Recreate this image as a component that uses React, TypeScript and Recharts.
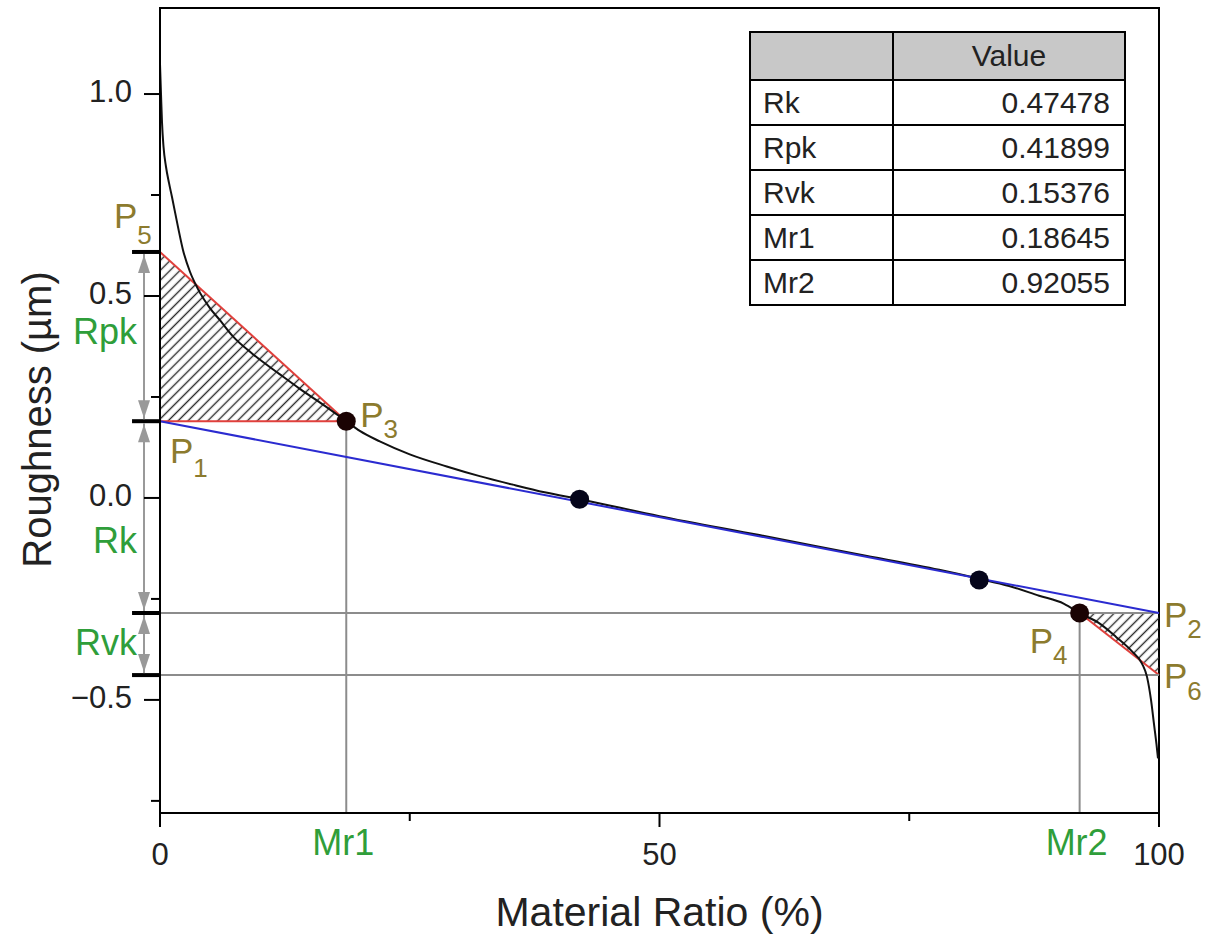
import React from 'react';
import {
  Area,
  ComposedChart,
  Line,
  ReferenceArea,
  ReferenceDot,
  ReferenceLine,
  Scatter,
  XAxis,
  YAxis,
} from 'recharts';

// bearing (Abbott-Firestone) curve
const curveRatio = [
  0, 0.1, 0.2, 0.35, 0.6, 0.9, 1.2, 1.8, 2.3, 3.0, 3.7, 5, 6, 7.3, 9.3, 12, 14, 16.5, 18.65, 20, 22, 25, 28.7, 32,
  35.3, 38.5, 42, 50, 60, 70, 78, 82, 85, 88, 90.5, 92.05, 94, 95.7, 97.3, 98.3, 98.8, 99.2, 99.5, 99.75, 99.9,
];
const curveHeight = [
  1.074, 1.0, 0.93, 0.87, 0.82, 0.78, 0.745, 0.671, 0.614, 0.56, 0.522, 0.47, 0.44, 0.4, 0.356, 0.306, 0.27, 0.228,
  0.19, 0.166, 0.14, 0.108, 0.078, 0.054, 0.033, 0.014, -0.003, -0.045, -0.092, -0.14, -0.178, -0.2, -0.218,
  -0.242, -0.262, -0.285, -0.31, -0.344, -0.38, -0.41, -0.443, -0.5, -0.56, -0.61, -0.645,
];

// 40% window of the equivalent straight line
const windowRatio = [42, 82];
const windowHeight = [-0.003, -0.203];

// result table
const tableLabels = ['Rk', 'Rpk', 'Rvk', 'Mr1', 'Mr2'];
const tableValues = [0.47478, 0.41899, 0.15376, 0.18645, 0.92055];

// axis ticks
const xMajorTicks = [0, 50, 100];
const xMinorTicks = [25, 75];
const yMajorTicks = [-0.5, 0, 0.5, 1.0];
const yMinorTicks = [-0.75, -0.25, 0.25, 0.75];

const coreTop = 0.19; // height of P1
const [rk, rpk, rvk, mr1, mr2] = tableValues;
const mr1Pct = mr1 * 100;
const mr2Pct = mr2 * 100;
const coreBottom = coreTop - rk;
const peakTop = coreTop + rpk;
const valleyBottom = coreBottom - rvk;

const yMin = -0.78;
const yMax = 1.213;

const GREEN = '#2f9e3a';
const OLIVE = '#8c7b2e';
const RED = '#e0403c';
const BLUE = '#2b2bd0';
const GRAY = '#8c8c8c';
const FONT = '"Liberation Sans", Arial, sans-serif';

const curveData = curveRatio.map((x, i) => ({ x, y: curveHeight[i] }));
const lineData = [
  { x: 0, y: coreTop },
  { x: 100, y: coreBottom },
];
const windowData = windowRatio.map((x, i) => ({ x, y: windowHeight[i] }));
const cornerData = [
  { x: mr1Pct, y: coreTop },
  { x: mr2Pct, y: coreBottom },
];
const peakTri = [
  { x: 0, y: [coreTop, peakTop] },
  { x: mr1Pct, y: [coreTop, coreTop] },
];
const valleyTri = [
  { x: mr2Pct, y: [coreBottom, coreBottom] },
  { x: 100, y: [valleyBottom, coreBottom] },
];

const pPoints = [
  { n: '5', x: 0, y: peakTop, dx: -46, dy: -24, sub: 16 },
  { n: '1', x: 0, y: coreTop, dx: 10, dy: 42, sub: 14 },
  { n: '3', x: mr1Pct, y: coreTop, dx: 14, dy: 6, sub: 11 },
  { n: '4', x: mr2Pct, y: coreBottom, dx: -50, dy: 40, sub: 11 },
  { n: '2', x: 100, y: coreBottom, dx: 5, dy: 14, sub: 11 },
  { n: '6', x: 100, y: valleyBottom, dx: 5, dy: 13, sub: 12 },
];

const fmtY = (v: number) => (v < 0 ? '\u2212' + Math.abs(v).toFixed(1) : v.toFixed(1));

const XTick = (props: any) => {
  const { x, y, payload } = props;
  const v = payload.value;
  if (v === mr1Pct || v === mr2Pct) {
    return (
      <text x={x - 3} y={y + 42} textAnchor="middle" fill={GREEN} fontSize={36} fontFamily={FONT}>
        {v === mr1Pct ? 'Mr1' : 'Mr2'}
      </text>
    );
  }
  const minor = xMinorTicks.includes(v);
  return (
    <g>
      <line x1={x} x2={x} y1={y} y2={y + (minor ? 8 : 14)} stroke="#000" strokeWidth={2} />
      {!minor && (
        <text x={x} y={y + 52} textAnchor="middle" fill="#222" fontSize={31} fontFamily={FONT}>
          {v}
        </text>
      )}
    </g>
  );
};

const YTick = (props: any) => {
  const { x, y, payload } = props;
  const v = payload.value;
  const minor = yMinorTicks.includes(v);
  return (
    <g>
      <line x1={x - (minor ? 9 : 16)} x2={x} y1={y} y2={y} stroke="#000" strokeWidth={2} />
      {!minor && (
        <text x={x - 28} y={y - 3} dy="0.36em" textAnchor="end" fill="#222" fontSize={31} fontFamily={FONT}>
          {fmtY(v)}
        </text>
      )}
    </g>
  );
};

const arrow = (name: string, lift: number) => (p: any) => {
  const top = Math.min(p.y1, p.y2);
  const bot = Math.max(p.y1, p.y2);
  const x = p.x1;
  return (
    <g>
      <line x1={x} x2={x} y1={top + 2} y2={bot - 2} stroke="#999" strokeWidth={2} />
      <polygon points={`${x},${top + 3} ${x - 6},${top + 21} ${x + 6},${top + 21}`} fill="#999" />
      <polygon points={`${x},${bot - 3} ${x - 6},${bot - 21} ${x + 6},${bot - 21}`} fill="#999" />
      <text x={x - 7} y={(top + bot) / 2 + lift} textAnchor="end" fill={GREEN} fontSize={36} fontFamily={FONT}>
        {name}
      </text>
    </g>
  );
};

const pLabel = (n: string, dx: number, dy: number, sub: number) => (p: any) => (
  <text x={p.cx + dx} y={p.cy + dy} fill={OLIVE} fontSize={35} fontFamily={FONT}>
    P
    <tspan dy={sub} fontSize={26}>
      {n}
    </tspan>
  </text>
);

const cell: React.CSSProperties = { border: '2px solid #000', padding: 0 };

export default function App() {
  return (
    <div style={{ position: 'absolute', left: 0, top: 0, width: 1214, height: 941, background: '#fff' }}>
      <ComposedChart width={1214} height={941} margin={{ top: 8, right: 55, bottom: 68, left: 60 }}>
        <defs>
          <pattern id="hatch" patternUnits="userSpaceOnUse" width={7} height={7} patternTransform="rotate(45)">
            <line x1={3.5} y1={0} x2={3.5} y2={7} stroke="#2a2a2a" strokeWidth={1.4} />
          </pattern>
        </defs>
        <XAxis
          dataKey="x"
          type="number"
          domain={[0, 100]}
          ticks={[...xMajorTicks, ...xMinorTicks, mr1Pct, mr2Pct].sort((a, b) => a - b)}
          interval={0}
          height={60}
          tickSize={0}
          tickMargin={0}
          tickLine={false}
          axisLine={{ stroke: '#000', strokeWidth: 2 }}
          tick={<XTick />}
          label={{
            content: ({ viewBox }: any) => (
              <text
                x={viewBox.x + viewBox.width / 2}
                y={viewBox.y + 113}
                textAnchor="middle"
                fill="#222"
                fontSize={41}
                fontFamily={FONT}
              >
                Material Ratio (%)
              </text>
            ),
          }}
        />
        <YAxis
          type="number"
          domain={[yMin, yMax]}
          ticks={[...yMajorTicks, ...yMinorTicks].sort((a, b) => a - b)}
          interval={0}
          width={100}
          tickSize={0}
          tickMargin={0}
          tickLine={false}
          axisLine={{ stroke: '#000', strokeWidth: 2 }}
          tick={<YTick />}
          label={{
            content: ({ viewBox }: any) => {
              const cx = viewBox.x - 23;
              const cy = viewBox.y + viewBox.height / 2 + 9;
              return (
                <text
                  x={cx}
                  y={cy}
                  dy="0.36em"
                  textAnchor="middle"
                  fill="#222"
                  fontSize={40}
                  fontFamily={FONT}
                  transform={`rotate(-90, ${cx}, ${cy})`}
                >
                  Roughness (µm)
                </text>
              );
            },
          }}
        />
        <ReferenceArea x1={0} x2={100} y1={yMin} y2={yMax} fill="none" stroke="#000" strokeWidth={2} />
        <ReferenceLine y={coreBottom} stroke={GRAY} strokeWidth={2} />
        <ReferenceLine y={valleyBottom} stroke={GRAY} strokeWidth={2} />
        <ReferenceLine segment={[{ x: mr1Pct, y: yMin }, { x: mr1Pct, y: coreTop }]} stroke={GRAY} strokeWidth={2} />
        <ReferenceLine segment={[{ x: mr2Pct, y: yMin }, { x: mr2Pct, y: coreBottom }]} stroke={GRAY} strokeWidth={2} />
        <Area
          data={peakTri}
          dataKey="y"
          type="linear"
          fill="url(#hatch)"
          fillOpacity={1}
          stroke={RED}
          strokeWidth={2}
          dot={false}
          activeDot={false}
          isAnimationActive={false}
        />
        <Area
          data={valleyTri}
          dataKey="y"
          type="linear"
          fill="url(#hatch)"
          fillOpacity={1}
          stroke={RED}
          strokeWidth={2}
          dot={false}
          activeDot={false}
          isAnimationActive={false}
        />
        <Line
          data={curveData}
          dataKey="y"
          type="monotone"
          stroke="#111"
          strokeWidth={2}
          dot={false}
          activeDot={false}
          isAnimationActive={false}
        />
        <Line
          data={lineData}
          dataKey="y"
          type="linear"
          stroke={BLUE}
          strokeWidth={2}
          dot={false}
          activeDot={false}
          isAnimationActive={false}
        />
        <Scatter
          data={windowData}
          dataKey="y"
          isAnimationActive={false}
          shape={(p: any) => <circle cx={p.cx} cy={p.cy} r={9.5} fill="#05051a" />}
        />
        <Scatter
          data={cornerData}
          dataKey="y"
          isAnimationActive={false}
          shape={(p: any) => <circle cx={p.cx} cy={p.cy} r={9.5} fill="#1a0303" />}
        />
        {[peakTop, coreTop, coreBottom, valleyBottom].map((lv, i) => (
          <ReferenceLine
            key={'bar' + i}
            segment={[{ x: -2.8, y: lv }, { x: 0, y: lv }]}
            stroke="#000"
            strokeWidth={4}
            ifOverflow="visible"
          />
        ))}
        <ReferenceLine
          segment={[{ x: -1.6, y: peakTop }, { x: -1.6, y: coreTop }]}
          ifOverflow="visible"
          shape={arrow('Rpk', 7)}
        />
        <ReferenceLine
          segment={[{ x: -1.6, y: coreTop }, { x: -1.6, y: coreBottom }]}
          ifOverflow="visible"
          shape={arrow('Rk', 36)}
        />
        <ReferenceLine
          segment={[{ x: -1.6, y: coreBottom }, { x: -1.6, y: valleyBottom }]}
          ifOverflow="visible"
          shape={arrow('Rvk', 11)}
        />
        {pPoints.map((pt) => (
          <ReferenceDot
            key={'P' + pt.n}
            x={pt.x}
            y={pt.y}
            r={1}
            ifOverflow="visible"
            shape={pLabel(pt.n, pt.dx, pt.dy, pt.sub)}
          />
        ))}
      </ComposedChart>
      <table
        style={{
          position: 'absolute',
          left: 749,
          top: 31,
          width: 377,
          height: 275,
          borderCollapse: 'collapse',
          fontFamily: FONT,
          fontSize: 30,
          color: '#222',
          background: '#fff',
        }}
      >
        <thead>
          <tr style={{ height: 48, background: '#c8c8c8' }}>
            <th style={{ ...cell, width: 141 }} />
            <th style={{ ...cell, fontWeight: 'normal', textAlign: 'center' }}>Value</th>
          </tr>
        </thead>
        <tbody>
          {tableLabels.map((l, i) => (
            <tr key={l} style={{ height: 45 }}>
              <td style={{ ...cell, paddingLeft: 12, textAlign: 'left' }}>{l}</td>
              <td style={{ ...cell, paddingRight: 14, textAlign: 'right' }}>{tableValues[i].toFixed(5)}</td>
            </tr>
          ))}
        </tbody>
      </table>
    </div>
  );
}
